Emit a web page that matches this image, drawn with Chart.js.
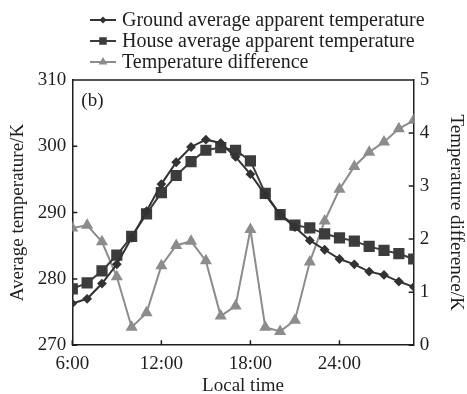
<!DOCTYPE html>
<html>
<head>
<meta charset="utf-8">
<script src="https://cdn.jsdelivr.net/npm/chart.js@4.4.0/dist/chart.umd.min.js"></script>
<style>
  html, body { margin: 0; padding: 0; background: #fff; }
  #wrap { width: 467px; height: 394px; }
</style>
</head>
<body>
<div id="wrap"><canvas id="tempChart"></canvas></div>
<script>
// horas locales (6:00 -> 5:00 del día siguiente)
const hours = [6, 7, 8, 9, 10, 11, 12, 13, 14, 15, 16, 17, 18, 19, 20, 21, 22, 23, 24, 25, 26, 27, 28, 29];
const groundTemp = [276.3, 277.0, 279.3, 282.2, 286.2, 290.2, 294.3, 297.6, 299.9, 301.0, 300.5, 298.4, 295.8, 292.7, 289.7, 287.8, 285.8, 284.4, 283.0, 282.2, 281.1, 280.6, 279.6, 278.8];
const houseTemp = [278.5, 279.4, 281.2, 283.6, 286.4, 289.8, 293.0, 295.6, 297.7, 299.4, 299.8, 299.4, 297.8, 292.9, 289.7, 288.1, 287.7, 286.8, 286.2, 285.7, 284.9, 284.3, 283.8, 283.0];
const tempDiff = [2.21, 2.26, 1.95, 1.29, 0.34, 0.61, 1.50, 1.88, 1.96, 1.59, 0.55, 0.74, 2.18, 0.34, 0.26, 0.47, 1.57, 2.34, 2.94, 3.37, 3.64, 3.83, 4.08, 4.24];
const hourTicks = [6, 12, 18, 24];
const hourLabels = ['6:00', '12:00', '18:00', '24:00'];
const seriesNames = ['Ground average apparent temperature', 'House average apparent temperature', 'Temperature difference'];

const FONT = 'Liberation Serif';
const INK = '#1e1e1e';

function xy(values) {
    return hours.map((h, i) => ({ x: h, y: values[i] }));
}

// ticks hacia adentro, marco superior, leyenda y la etiqueta (b)
const framePlugin = {
    id: 'frame',
    afterDatasetsDraw(chart) {
        const { ctx, chartArea: a, scales } = chart;
        ctx.save();
        ctx.strokeStyle = INK;
        ctx.lineWidth = 1.5;
        ctx.beginPath();
        ctx.moveTo(a.left, a.top);
        ctx.lineTo(a.right, a.top);
        scales.x.ticks.forEach(t => {
            const px = scales.x.getPixelForValue(t.value);
            ctx.moveTo(px, a.bottom);
            ctx.lineTo(px, a.bottom - 5);
        });
        scales.y.ticks.forEach(t => {
            const py = scales.y.getPixelForValue(t.value);
            ctx.moveTo(a.left, py);
            ctx.lineTo(a.left + 5, py);
        });
        scales.y1.ticks.forEach(t => {
            const py = scales.y1.getPixelForValue(t.value);
            ctx.moveTo(a.right, py);
            ctx.lineTo(a.right - 5, py);
        });
        ctx.stroke();

        ctx.fillStyle = INK;
        ctx.font = '19px "' + FONT + '"';
        ctx.textBaseline = 'middle';
        ctx.fillText('(b)', a.left + 9, a.top + 21);

        // leyenda
        chart.data.datasets.forEach((ds, i) => {
            const y = 20 + i * 21;
            ctx.strokeStyle = ds.borderColor;
            ctx.lineWidth = 2;
            ctx.beginPath();
            ctx.moveTo(90, y);
            ctx.lineTo(116, y);
            ctx.stroke();
            ctx.fillStyle = ds.borderColor;
            Chart.helpers.drawPoint(ctx, { pointStyle: ds.pointStyle, radius: ds.pointRadius * 0.6, borderWidth: 1 }, 103, y);
            ctx.fillStyle = INK;
            ctx.font = '20px "' + FONT + '"';
            ctx.fillText(ds.label, 122, y + 1);
        });
        ctx.restore();
    }
};

const axisFont = { family: FONT, size: 19 };

new Chart(document.getElementById('tempChart'), {
    type: 'line',
    data: {
        datasets: [
            {
                label: seriesNames[0],
                data: xy(groundTemp),
                yAxisID: 'y',
                borderColor: '#333333',
                backgroundColor: '#333333',
                pointStyle: 'rectRot',
                pointRadius: 3.5,
                borderWidth: 2,
                tension: 0
            },
            {
                label: seriesNames[1],
                data: xy(houseTemp),
                yAxisID: 'y',
                borderColor: '#3c3c3c',
                backgroundColor: '#3c3c3c',
                pointStyle: 'rect',
                pointRadius: 6.5,
                borderWidth: 2,
                tension: 0
            },
            {
                label: seriesNames[2],
                data: xy(tempDiff),
                yAxisID: 'y1',
                borderColor: '#8c8c8c',
                backgroundColor: '#8c8c8c',
                pointStyle: 'triangle',
                pointRadius: 5,
                borderWidth: 2,
                tension: 0
            }
        ]
    },
    options: {
        responsive: true,
        maintainAspectRatio: false,
        animation: false,
        layout: { padding: { top: 80, left: 7, right: 0, bottom: -2 } },
        plugins: {
            legend: { display: false },
            tooltip: { enabled: false }
        },
        scales: {
            x: {
                type: 'linear',
                min: 6,
                max: 29,
                afterBuildTicks: scale => {
                    scale.ticks = hourTicks.map(v => ({ value: v }));
                },
                ticks: {
                    color: INK,
                    font: axisFont,
                    padding: 7,
                    maxRotation: 0,
                    callback: v => hourLabels[hourTicks.indexOf(v)]
                },
                grid: { display: false, drawTicks: false },
                border: { color: INK, width: 1.5 },
                title: { display: true, text: 'Local time', color: INK, font: { family: FONT, size: 19, lineHeight: 1 }, padding: { top: -5, bottom: 0 } }
            },
            y: {
                position: 'left',
                min: 270,
                max: 310,
                ticks: { stepSize: 10, color: INK, font: axisFont, padding: 6 },
                grid: { display: false, drawTicks: false },
                border: { color: INK, width: 1.5 },
                title: { display: true, text: 'Average temperature/K', color: INK, font: axisFont, padding: { top: 0, bottom: 2 } }
            },
            y1: {
                position: 'right',
                min: 0,
                max: 5,
                ticks: { stepSize: 1, color: INK, font: axisFont, padding: 6 },
                grid: { display: false, drawTicks: false },
                border: { color: INK, width: 1.5 },
                title: { display: true, text: 'Temperature difference/K', color: INK, font: axisFont, padding: { top: 0, bottom: 9 } }
            }
        }
    },
    plugins: [framePlugin]
});
</script>
</body>
</html>
